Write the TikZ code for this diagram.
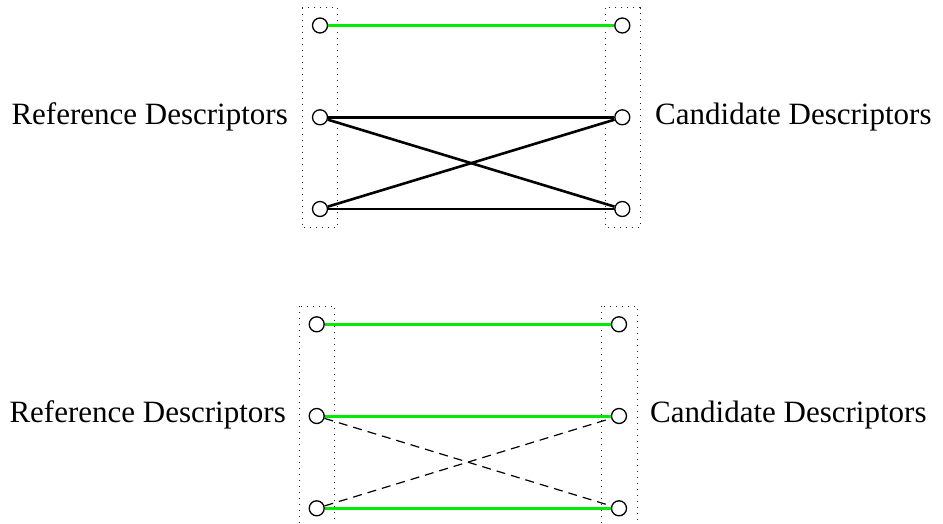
\documentclass[tikz,border=0pt]{standalone}
\usepackage{fontspec}
\setmainfont{Liberation Serif}
\begin{document}
\begin{tikzpicture}[x=1pt,y=-1pt,
  desc/.style={circle,draw,line width=1.3pt,minimum size=15pt,inner sep=0pt,fill=white},
  grp/.style={draw=black!85,line width=1pt,dash pattern=on 1pt off 5pt},
  match/.style={draw={rgb,255:red,0;green,235;blue,0},line width=3pt},
  cand/.style={draw=black,line width=2.6pt},
  rej/.style={draw=black,line width=1.2pt,dash pattern=on 9pt off 6pt},
  lbl/.style={inner sep=0pt,font=\fontsize{31}{37}\selectfont}]
\useasboundingbox (0,0) rectangle (943,524);
\begin{scope}
\clip (0,0) rectangle (943,524);
% top
\draw[grp] (302,7.7) rectangle (337.7,227.7);
\draw[grp] (605.7,7.7) rectangle (640,227.7);
\node[desc] (ta1) at (320,25.5) {};
\node[desc] (ta2) at (320,117.3) {};
\node[desc] (ta3) at (320,209) {};
\node[desc] (tb1) at (622.3,25.5) {};
\node[desc] (tb2) at (622.3,117.3) {};
\node[desc] (tb3) at (622.3,209) {};
\draw[match] (ta1) -- (tb1);
\draw[cand] (ta2) -- (tb2);
\draw[cand] (ta2) -- (tb3);
\draw[cand] (ta3) -- (tb2);
\draw[cand] (ta3) -- (tb3);
\node[lbl,anchor=base east] (tl) at (288,124.3) {Reference Descriptors};
\node[lbl,anchor=base west] (tr) at (655,124.3) {Candidate Descriptors};
% bottom
\draw[grp] (299,306) rectangle (334.3,527);
\draw[grp] (601.7,306) rectangle (637.3,527);
\node[desc] (ba1) at (316.7,324.3) {};
\node[desc] (ba2) at (316.7,416) {};
\node[desc] (ba3) at (316.7,508.3) {};
\node[desc] (bb1) at (619,324.3) {};
\node[desc] (bb2) at (619,416) {};
\node[desc] (bb3) at (619,508.3) {};
\draw[match] (ba1) -- (bb1);
\draw[match] (ba2) -- (bb2);
\draw[match] (ba3) -- (bb3);
\draw[rej] (ba2) -- (bb3);
\draw[rej] (ba3) -- (bb2);
\node[lbl,anchor=base east] (bl) at (286,422.3) {Reference Descriptors};
\node[lbl,anchor=base west] (br) at (650,422.3) {Candidate Descriptors};
\end{scope}
\end{tikzpicture}
\end{document}
